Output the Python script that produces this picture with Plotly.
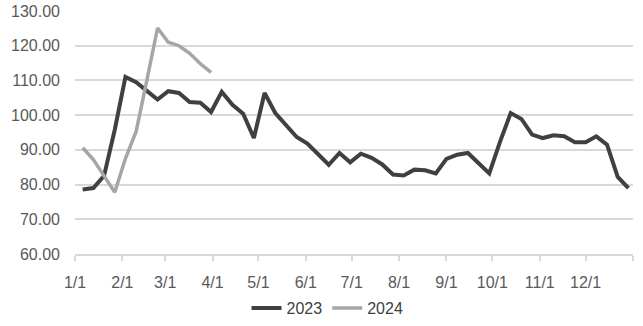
import pandas as pd
import plotly.graph_objects as go

# weekly observations (Fridays), 2024 plotted on the same calendar position
week_dates = list(pd.date_range("2023-01-06", periods=52, freq="7D").strftime("%Y-%m-%d"))

values_2023 = [78.6, 79.0, 82.5, 95.8, 111.0, 109.5, 107.0, 104.5, 106.9, 106.4,
               103.8, 103.6, 100.9, 106.7, 103.0, 100.4, 93.4, 106.4, 100.6, 97.3,
               93.7, 91.8, 88.8, 85.7, 89.1, 86.4, 88.9, 87.7, 85.8, 82.9,
               82.6, 84.3, 84.1, 83.2, 87.4, 88.6, 89.1, 86.2, 83.2, 92.3,
               100.6, 98.9, 94.4, 93.4, 94.2, 93.9, 92.2, 92.2, 93.9, 91.5,
               82.2, 79.0]

values_2024 = [90.6, 87.2, 82.5, 77.8, 87.5, 95.3, 110.0, 125.1, 121.0, 120.0,
               117.8, 114.8, 112.3]

tick_dates = ["2023-01-01", "2023-02-01", "2023-03-01", "2023-04-01", "2023-05-01",
              "2023-06-01", "2023-07-01", "2023-08-01", "2023-09-01", "2023-10-01",
              "2023-11-01", "2023-12-01", "2024-01-01"]
tick_labels = ["1/1", "2/1", "3/1", "4/1", "5/1", "6/1", "7/1", "8/1", "9/1",
               "10/1", "11/1", "12/1", ""]

series_names = ["2023", "2024"]

fig = go.Figure()
fig.add_trace(go.Scatter(x=week_dates, y=values_2023, mode="lines", name=series_names[0],
                         line=dict(color="#404040", width=4)))
fig.add_trace(go.Scatter(x=week_dates[:len(values_2024)], y=values_2024, mode="lines",
                         name=series_names[1], line=dict(color="#a6a6a6", width=3.5)))

fig.update_layout(
    width=643, height=326,
    margin=dict(l=75, r=10, t=11, b=72, autoexpand=False),
    plot_bgcolor="white", paper_bgcolor="white",
    font=dict(family="Liberation Sans, Arial, sans-serif", size=16, color="#595959"),
    showlegend=True,
    legend=dict(orientation="h", x=0.5 + 6 / 643, xanchor="center", xref="container",
                y=1 - 308 / 326, yanchor="middle", yref="container",
                font=dict(size=16, color="#404040"), itemwidth=30, tracegroupgap=0),
)
fig.update_xaxes(
    type="date", range=["2023-01-01", "2024-01-01"],
    tickmode="array", tickvals=tick_dates, ticktext=tick_labels,
    showgrid=False, showline=True, linecolor="#d9d9d9", linewidth=1.5,
    ticks="outside", ticklen=5, tickcolor="#d9d9d9", tickwidth=1.5,
    zeroline=False, automargin=False, ticklabelstandoff=8,
)
fig.update_yaxes(
    range=[60, 130], dtick=10, tickformat=".2f",
    showgrid=True, gridcolor="#d9d9d9", gridwidth=1.5,
    zeroline=False, showline=False, ticks="", ticklabelstandoff=14, automargin=False,
)

fig.write_html("out.html")
